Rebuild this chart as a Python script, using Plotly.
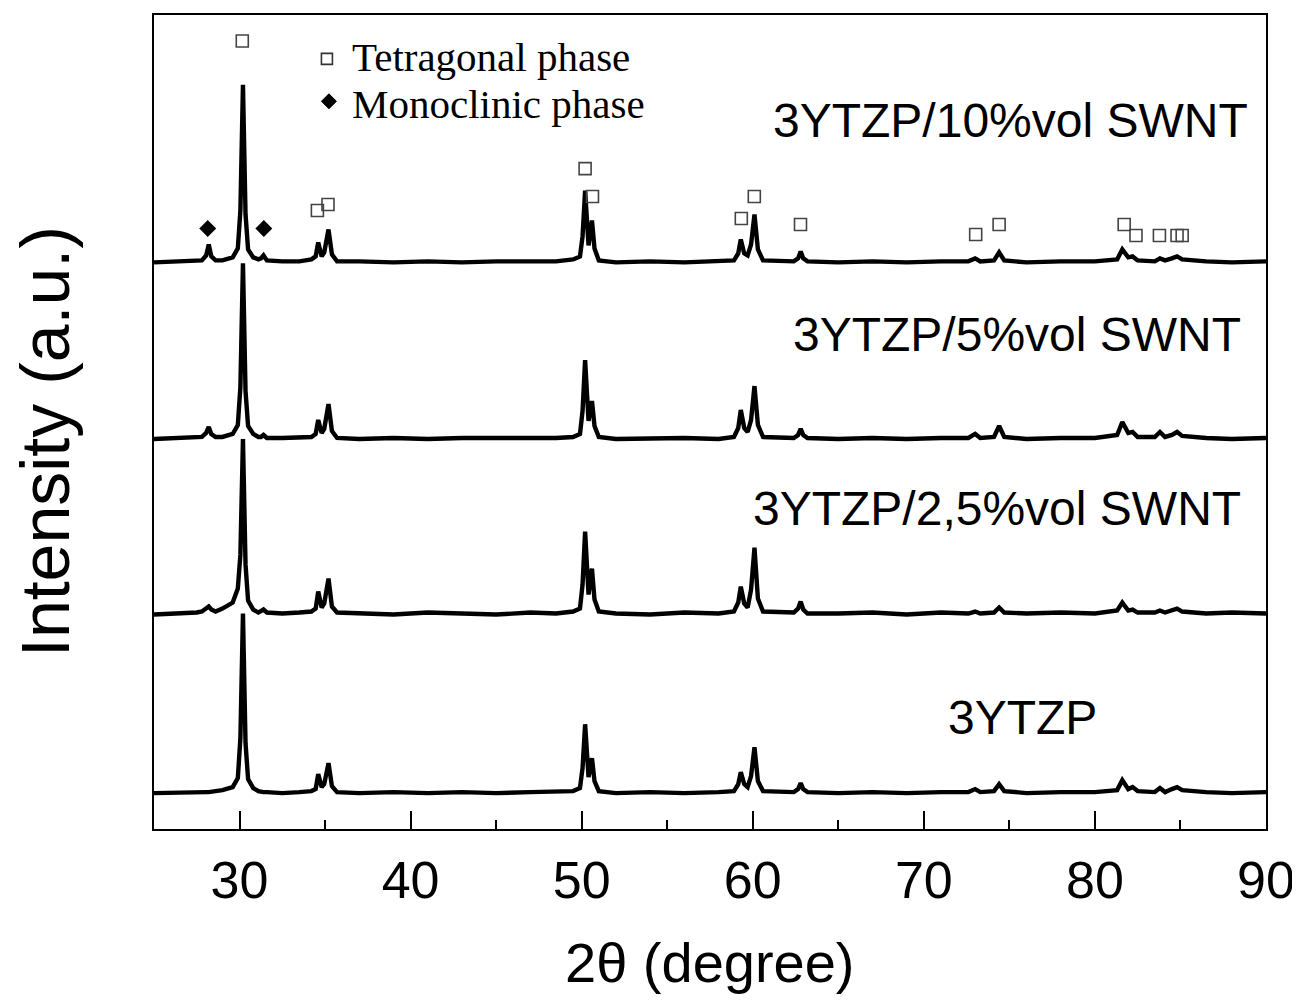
import plotly.graph_objects as go

# ---------------- data ----------------
# shared 2-theta sampling (degree)
TWO_THETA = [
    25.0, 26.5, 27.5, 27.8, 28.05, 28.2, 28.35, 28.6,
    29.0, 29.6, 29.9, 30.05, 30.2, 30.35, 30.5, 30.8, 31.1, 31.25, 31.4, 31.6,
    32.5, 33.5, 34.2, 34.45, 34.6, 34.8, 34.95, 35.2, 35.4, 35.7,
    37.0, 39.0, 41.0, 43.0, 45.0, 47.0, 48.5, 49.5, 49.9, 50.05, 50.2, 50.4, 50.6, 50.75, 51.0,
    52.0, 54.0, 56.0, 58.0, 58.9, 59.15, 59.3, 59.5, 59.7, 59.9, 60.1, 60.3, 60.6,
    62.4, 62.65, 62.8, 62.95, 63.2,
    65.0, 67.0, 69.0, 71.0, 72.6, 73.0, 73.3, 74.1, 74.4, 74.7,
    76.0, 78.0, 80.0, 81.3, 81.6, 81.95, 82.2, 82.5, 83.5, 83.8, 84.1, 84.5, 84.8, 85.1, 86.5, 88.0, 90.0,
]

# relative intensities (a.u.) of each pattern
I_3YTZP = [
    0, 1, 1, 1, 1, 1, 1, 2,
    3, 6, 15, 55, 180, 50, 14, 5, 2, 1, 1, 1,
    0, 1, 2, 4, 19, 6, 9, 30, 7, 1,
    0, 1, 0, 1, 0, 1, 1, 2, 5, 25, 69, 16, 35, 12, 2,
    0, 1, 0, 1, 2, 9, 21, 9, 6, 17, 46, 12, 2,
    1, 4, 10, 4, 1,
    0, 1, 0, 1, 1, 4, 1, 2, 9, 2,
    0, 1, 1, 3, 13, 4, 6, 2, 1, 5, 1, 4, 6, 3, 1, 0, 1,
]
I_2_5 = [
    0, 1, 2, 3, 6, 8, 5, 3,
    6, 12, 26, 60, 176, 50, 14, 5, 2, 3, 5, 2,
    1, 2, 3, 6, 23, 7, 11, 36, 8, 2,
    1, 0, 2, 1, 0, 2, 1, 3, 6, 30, 83, 20, 46, 15, 3,
    1, 0, 2, 1, 3, 12, 28, 11, 7, 25, 67, 16, 3,
    2, 6, 13, 5, 1,
    1, 2, 0, 2, 1, 3, 1, 2, 7, 2,
    1, 2, 1, 4, 12, 4, 5, 2, 2, 4, 2, 4, 6, 3, 1, 2, 1,
]
I_5 = [
    0, 1, 1, 2, 6, 12, 5, 2,
    2, 5, 14, 52, 176, 48, 13, 5, 2, 2, 4, 1,
    1, 1, 2, 5, 19, 6, 10, 35, 8, 1,
    0, 1, 0, 1, 1, 0, 1, 2, 5, 28, 79, 18, 38, 13, 2,
    0, 1, 1, 0, 2, 11, 29, 11, 7, 19, 53, 14, 2,
    1, 4, 10, 4, 1,
    0, 1, 0, 1, 1, 5, 1, 2, 13, 2,
    0, 1, 1, 4, 17, 6, 7, 2, 2, 7, 2, 4, 7, 3, 1, 0, 1,
]
I_10 = [
    0, 1, 1, 2, 7, 18, 6, 2,
    2, 5, 14, 52, 178, 48, 13, 5, 3, 4, 7, 2,
    1, 1, 3, 6, 20, 6, 10, 33, 8, 1,
    1, 0, 1, 0, 1, 1, 1, 3, 6, 26, 72, 17, 42, 14, 2,
    0, 1, 0, 1, 2, 9, 23, 9, 7, 18, 48, 13, 2,
    1, 4, 11, 4, 1,
    0, 1, 0, 1, 1, 4, 1, 2, 10, 2,
    0, 1, 1, 3, 13, 5, 6, 2, 1, 4, 2, 4, 6, 3, 1, 0, 1,
]

SAMPLE_NAMES = ["3YTZP", "3YTZP/2,5%vol SWNT", "3YTZP/5%vol SWNT", "3YTZP/10%vol SWNT"]
OFFSETS = [36, 215, 391, 568]          # vertical stacking offsets (a.u.)

# phase markers (2-theta, a.u.) above the 10 %vol pattern
TET_X = [30.16, 34.55, 35.17, 50.2, 50.63, 59.33, 60.09, 62.79,
         73.03, 74.40, 81.71, 82.40, 83.77, 84.80, 85.10]
TET_Y = [790, 620, 626, 662, 634, 612, 634, 606,
         596, 606, 606, 595, 595, 595, 595]
MONO_X = [28.14, 31.42]
MONO_Y = [602, 602]

X_TICKS = [30, 40, 50, 60, 70, 80, 90]

# ---------------- figure ----------------
# page body has an 8 px margin; plot area wanted at x 154..1266.5, y 13..829
OFF = 8
PL, PR, PT, PB = 154, 1266.5, 13, 829
PW, PH = PR - PL, PB - PT


def px(xp):
    return (xp - PL) / PW


def py(yp):
    return (PB - yp) / PH


fig = go.Figure()
patterns = [I_3YTZP, I_2_5, I_5, I_10]
for name, vals, off in zip(SAMPLE_NAMES, patterns, OFFSETS):
    assert len(vals) == len(TWO_THETA)
    fig.add_trace(go.Scatter(
        x=TWO_THETA, y=[v + off for v in vals], mode="lines", name=name,
        line=dict(color="black", width=4.4), showlegend=False,
        hoverinfo="skip"))

fig.add_trace(go.Scatter(
    x=TET_X, y=TET_Y, mode="markers", name="Tetragonal phase",
    marker=dict(symbol="square-open", size=12, color="#444444",
                line=dict(color="#444444", width=1.6)),
    showlegend=False))
fig.add_trace(go.Scatter(
    x=MONO_X, y=MONO_Y, mode="markers", name="Monoclinic phase",
    marker=dict(symbol="diamond", size=13, color="black"),
    showlegend=False))

# legend made of shapes + text
fig.add_shape(type="rect", xref="paper", yref="paper", xsizemode="pixel", ysizemode="pixel",
              xanchor=px(327), yanchor=py(57),
              x0=-5.5, x1=5.5, y0=-5.5, y1=5.5,
              line=dict(color="#333333", width=1.6), fillcolor="white")
fig.add_shape(type="path", xref="paper", yref="paper", xsizemode="pixel", ysizemode="pixel",
              xanchor=px(329), yanchor=py(99.5),
              path="M -7.5 0 L 0 7.5 L 7.5 0 L 0 -7.5 Z",
              line=dict(color="black", width=1), fillcolor="black")

serif = "Liberation Serif, Times New Roman, serif"
sans = "Liberation Sans, Arial, sans-serif"
fig.add_annotation(text="Tetragonal phase", xref="paper", yref="paper",
                   x=px(350), y=py(55), xanchor="left", yanchor="middle",
                   showarrow=False, font=dict(family=serif, size=41, color="black"))
fig.add_annotation(text="Monoclinic phase", xref="paper", yref="paper",
                   x=px(350), y=py(102), xanchor="left", yanchor="middle",
                   showarrow=False, font=dict(family=serif, size=41, color="black"))

label_pos = [  # (x paper, y paper, anchor)
    (px(1023), py(717), "center"),
    (px(1243), py(508), "right"),
    (px(1243), py(333), "right"),
    (px(1250), py(119), "right"),
]
for name, (lx, ly, anc) in zip(SAMPLE_NAMES, label_pos):
    fig.add_annotation(text=name, xref="paper", yref="paper", x=lx, y=ly,
                       xanchor=anc, yanchor="middle", showarrow=False,
                       font=dict(family=sans, size=48, color="black"))

# axis titles
fig.add_annotation(text="2θ (degree)", xref="paper", yref="paper",
                   x=0.5, y=py(963), xanchor="center", yanchor="middle",
                   showarrow=False, font=dict(family=sans, size=56, color="black"))
fig.add_annotation(text="Intensity (a.u.)", xref="paper", yref="paper",
                   x=px(45), y=py(441), xanchor="center", yanchor="middle",
                   textangle=-90, showarrow=False,
                   font=dict(family=sans, size=68, color="black"))

fig.update_xaxes(range=[25, 90], tickvals=X_TICKS, ticktext=[str(t) for t in X_TICKS],
                 ticks="inside", ticklen=18, tickwidth=2, tickcolor="black",
                 minor=dict(ticks="inside", ticklen=9, tickwidth=2, tickcolor="black", dtick=5, tick0=25),
                 showline=True, linewidth=2, linecolor="black", mirror=True,
                 showgrid=False, zeroline=False, ticklabelstandoff=5,
                 tickfont=dict(family=sans, size=52, color="black"))
fig.update_yaxes(range=[0, 816], showticklabels=False, ticks="",
                 showline=True, linewidth=2, linecolor="black", mirror=True,
                 showgrid=False, zeroline=False)

fig.update_layout(width=1300, height=1004, plot_bgcolor="white", paper_bgcolor="white",
                  margin=dict(l=PL - OFF, r=1300 - PR + OFF, t=PT - OFF, b=1004 - PB + OFF),
                  showlegend=False)

fig.write_html("out.html")
